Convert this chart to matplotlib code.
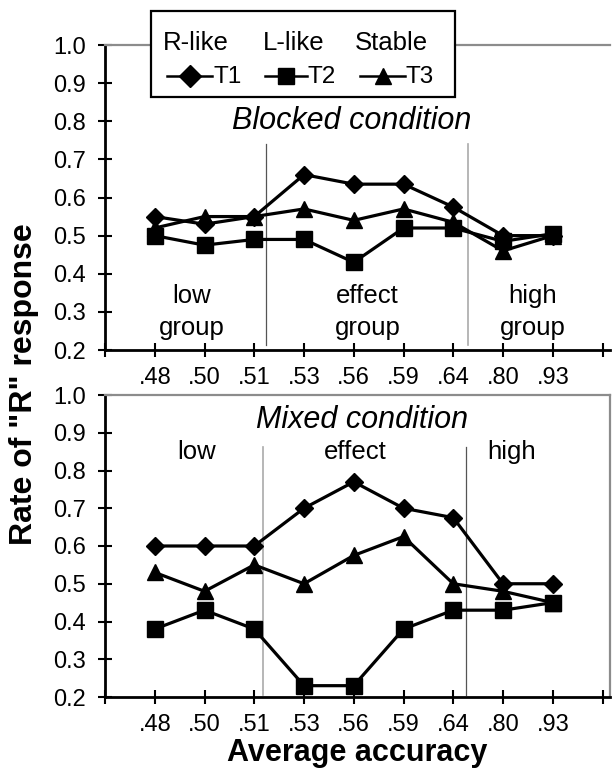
import matplotlib
matplotlib.use("Agg")
import matplotlib.pyplot as plt
from matplotlib.lines import Line2D
from matplotlib.patches import Rectangle
import numpy as np

plt.rcParams['font.family'] = ['Liberation Sans', 'DejaVu Sans']

# ---------------- data ----------------
accuracy_labels = ['.48', '.50', '.51', '.53', '.56', '.59', '.64', '.80', '.93']
series_names = ['T1', 'T2', 'T3']
legend_headers = ['R-like', 'L-like', 'Stable']

blocked_t1 = [0.55, 0.53, 0.55, 0.66, 0.635, 0.635, 0.575, 0.50, 0.50]
blocked_t2 = [0.50, 0.475, 0.49, 0.49, 0.43, 0.52, 0.52, 0.485, 0.505]
blocked_t3 = [0.52, 0.55, 0.55, 0.57, 0.54, 0.57, 0.535, 0.46, 0.50]

mixed_t1 = [0.60, 0.60, 0.60, 0.70, 0.77, 0.70, 0.675, 0.50, 0.50]
mixed_t2 = [0.38, 0.43, 0.38, 0.23, 0.23, 0.38, 0.43, 0.43, 0.45]
mixed_t3 = [0.53, 0.48, 0.55, 0.50, 0.575, 0.625, 0.50, 0.48, 0.45]

group_labels_blocked = [('low', 'group'), ('effect', 'group'), ('high', 'group')]
group_labels_mixed = ['low', 'effect', 'high']

# ---------------- layout ----------------
W, H = 612, 772
fig = plt.figure(figsize=(W / 100, H / 100), dpi=100)

def fx(px):
    return px / W

def fy(py):
    return 1 - py / H

XMAX = 10.15
left_px, right_px = 105, 610
ax_top = fig.add_axes([fx(left_px), fy(350), fx(right_px) - fx(left_px), fy(45) - fy(350)])
ax_bot = fig.add_axes([fx(left_px), fy(697), fx(right_px) - fx(left_px), fy(395) - fy(697)])

markers = ['D', 's', '^']
msizes = [9.5, 11, 11.5]
x = np.arange(1, len(accuracy_labels) + 1)

def style_axes(ax, right_visible):
    ax.set_xlim(0, XMAX)
    ax.set_ylim(0.2, 1.0)
    ax.set_yticks(np.arange(0.2, 1.01, 0.1))
    ax.set_yticklabels([f'{v:.1f}' for v in np.arange(0.2, 1.01, 0.1)])
    ax.set_xticks(np.arange(0, 11))
    ax.set_xticklabels([''] + accuracy_labels + [''])
    ax.tick_params(axis='both', direction='inout', length=10, width=1.5,
                   labelsize=17, colors='black')
    ax.tick_params(axis='x', pad=7.5)
    ax.tick_params(axis='y', pad=9)
    for s in ['left', 'bottom']:
        ax.spines[s].set_color('black')
        ax.spines[s].set_linewidth(2)
    ax.spines['top'].set_color('#8c8c8c')
    ax.spines['top'].set_linewidth(1.6)
    ax.spines['right'].set_color('#8c8c8c')
    ax.spines['right'].set_linewidth(1.6)
    ax.spines['right'].set_visible(right_visible)
    ax.patch.set_alpha(0)

style_axes(ax_top, False)
style_axes(ax_bot, True)

for ax, data in [(ax_top, [blocked_t1, blocked_t2, blocked_t3]),
                 (ax_bot, [mixed_t1, mixed_t2, mixed_t3])]:
    for vals, m, ms, name in zip(data, markers, msizes, series_names):
        ax.plot(x, vals, color='black', lw=2.3, marker=m, markersize=ms,
                markerfacecolor='black', markeredgecolor='black', label=name,
                clip_on=False, zorder=3)

# divider lines
ax_top.plot([3.23, 3.23], [0.213, 0.74], color='#555555', lw=0.9, zorder=1)
ax_top.plot([7.29, 7.29], [0.213, 0.74], color='#aaaaaa', lw=1.2, zorder=1)
ax_bot.plot([3.17, 3.17], [0.205, 0.862], color='#aaaaaa', lw=1.2, zorder=1)
ax_bot.plot([7.25, 7.25], [0.205, 0.862], color='#555555', lw=0.9, zorder=1)

# group labels
for (l1, l2), xc in zip(group_labels_blocked, [1.75, 5.28, 8.6]):
    ax_top.text(xc, 0.323, l1, ha='center', va='baseline', fontsize=18.5)
    ax_top.text(xc, 0.239, l2, ha='center', va='baseline', fontsize=18.5)
for lab, xc in zip(group_labels_mixed, [1.85, 5.02, 8.17]):
    ax_bot.text(xc, 0.83, lab, ha='center', va='baseline', fontsize=18.5)

ax_top.text(4.96, 0.78, 'Blocked condition', ha='center', va='baseline',
            fontsize=22, style='italic')
ax_bot.text(5.16, 0.913, 'Mixed condition', ha='center', va='baseline',
            fontsize=22, style='italic')

# axis labels
fig.text(fx(24), fy(384), 'Rate of "R" response', rotation=90, ha='center',
         va='center', fontsize=23, fontweight='bold')
fig.text(fx(357), fy(753), 'Average accuracy', ha='center', va='center',
         fontsize=22, fontweight='bold')

# legend box
box = Rectangle((fx(151), fy(97)), fx(455) - fx(151), fy(11) - fy(97),
                transform=fig.transFigure, facecolor='white', edgecolor='black',
                lw=1.6, zorder=5)
fig.patches.append(box)
for hdr, xc in zip(legend_headers, [196, 294, 391]):
    fig.text(fx(xc), fy(50), hdr, ha='center', va='baseline', fontsize=18.5, zorder=6)
legend_ms = [11.5, 11, 12]
for name, m, ms, (x0, x1) in zip(series_names, markers, legend_ms,
                                 [(167, 212), (265, 307), (360, 405)]):
    xm = (x0 + x1) / 2
    ln = Line2D([fx(x0), fx(xm), fx(x1)], [fy(76)] * 3, transform=fig.transFigure,
                color='black', lw=1.8, marker=m, markersize=ms, markevery=[1],
                markerfacecolor='black', markeredgecolor='black', zorder=6)
    fig.lines.append(ln)
    fig.text(fx(x1 + 1), fy(83), name, ha='left', va='baseline', fontsize=17.5, zorder=6)

fig.savefig('out.png', dpi=100)
